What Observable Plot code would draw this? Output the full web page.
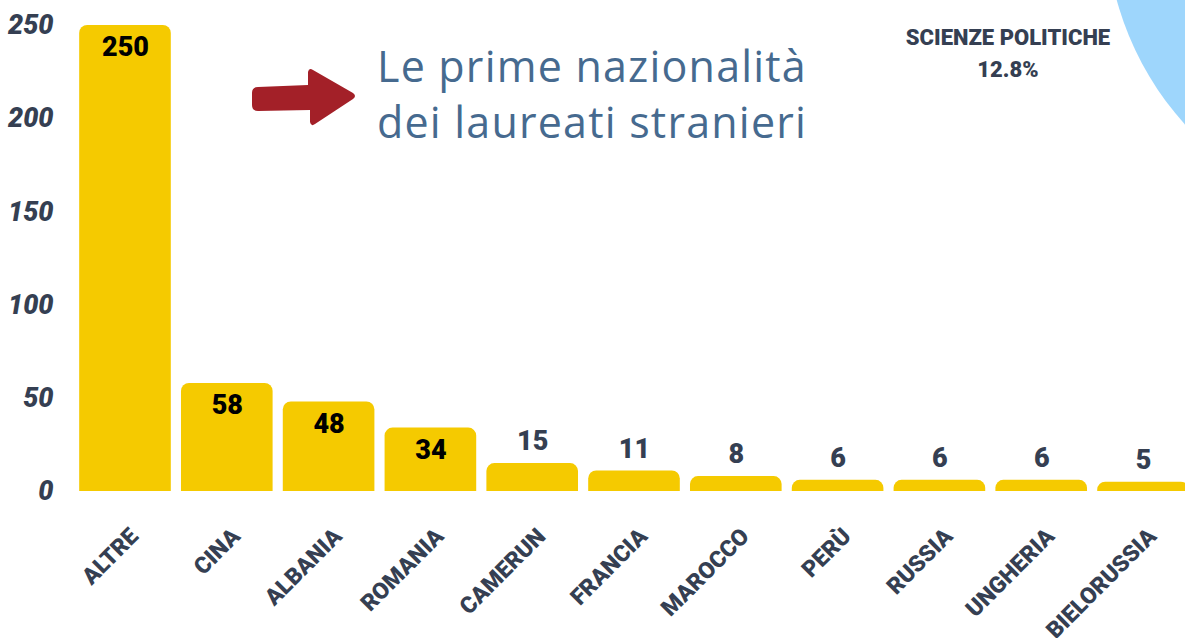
<!DOCTYPE html>
<html><head><meta charset="utf-8">
<script src="https://cdn.jsdelivr.net/npm/d3@7"></script>
<script src="https://cdn.jsdelivr.net/npm/@observablehq/plot@0.6"></script>
<style>
body{margin:0;background:#fff;}
#chart{position:relative;width:1185px;height:638px;overflow:hidden;}
#chart svg{display:block;}
</style>
</head><body><div id="chart"></div>
<script>
const categories = ["ALTRE","CINA","ALBANIA","ROMANIA","CAMERUN","FRANCIA","MAROCCO","PERÙ","RUSSIA","UNGHERIA","BIELORUSSIA"];
const values = [250,58,48,34,15,11,8,6,6,6,5];
const yTicks = [0,50,100,150,200,250];
const titleLines = ["Le prime nazionalità","dei laureati stranieri"];
const facultyName = "SCIENZE POLITICHE";
const facultyShare = "12.8%";

const data = categories.map((c,i)=>({c, v: values[i]}));
const font = 'Roboto,"DejaVu Sans Condensed",sans-serif';
const slate = "#353f52";

const chart = Plot.plot({
  width:1185, height:638, marginTop:25, marginBottom:147, marginLeft:74, marginRight:0,
  style:{fontFamily:font, fontWeight:900, background:"transparent", color:slate, overflow:"hidden"},
  x:{domain:categories, range:[69,1199], padding:0.1, round:false},
  y:{domain:[0,250]},
  marks:[
    Plot.barY(data,{x:"c", y:"v", fill:"#f5ca00", ry1:8}),
    Plot.text(data.filter(d=>d.v>=30),{x:"c", y:"v", text:d=>String(d.v), dy:22, fill:"#000", fontSize:27}),
    Plot.text(data.filter(d=>d.v<30),{x:"c", y:"v", text:d=>String(d.v), dy:-22, fill:slate, fontSize:27}),
    Plot.axisY({ticks:yTicks, tickSize:0, tickPadding:21, fontSize:27, fontStyle:"italic", label:null}),
    Plot.axisX({tickSize:0, tickRotate:-45, tickPadding:41, dx:9, fontSize:23, label:null})
  ]
});

const svg = d3.select(chart);
// decorative quarter circle top-right
svg.insert("circle", ":first-child").attr("cx",1410).attr("cy",-80).attr("r",304).attr("fill","#9ed6fc");
// arrow
svg.append("path")
  .attr("d","M258,87 L308,85 L308,72 Q309,67 313,70 L353,93 Q357,96 353,99 L315,124 Q311,127 310,122 L310,110 L258,111 Q252,111 252,105 L252,93 Q252,87 258,87 Z")
  .attr("fill","#a32028");
// title
const t = svg.append("text").attr("font-family",'"Open Sans",sans-serif').attr("font-weight",400)
  .attr("text-anchor","start").attr("font-size",43).attr("letter-spacing",1.2).attr("fill","#466a8f");
titleLines.forEach((l,i)=>t.append("tspan").attr("x",377).attr("y",82+i*56).text(l));
// faculty label
svg.append("text").attr("x",1008).attr("y",45).attr("text-anchor","middle").attr("font-size",22).attr("fill",slate).text(facultyName);
svg.append("text").attr("x",1008).attr("y",77).attr("text-anchor","middle").attr("font-size",22).attr("fill",slate).text(facultyShare);

document.getElementById("chart").appendChild(chart);
</script>
</body></html>
